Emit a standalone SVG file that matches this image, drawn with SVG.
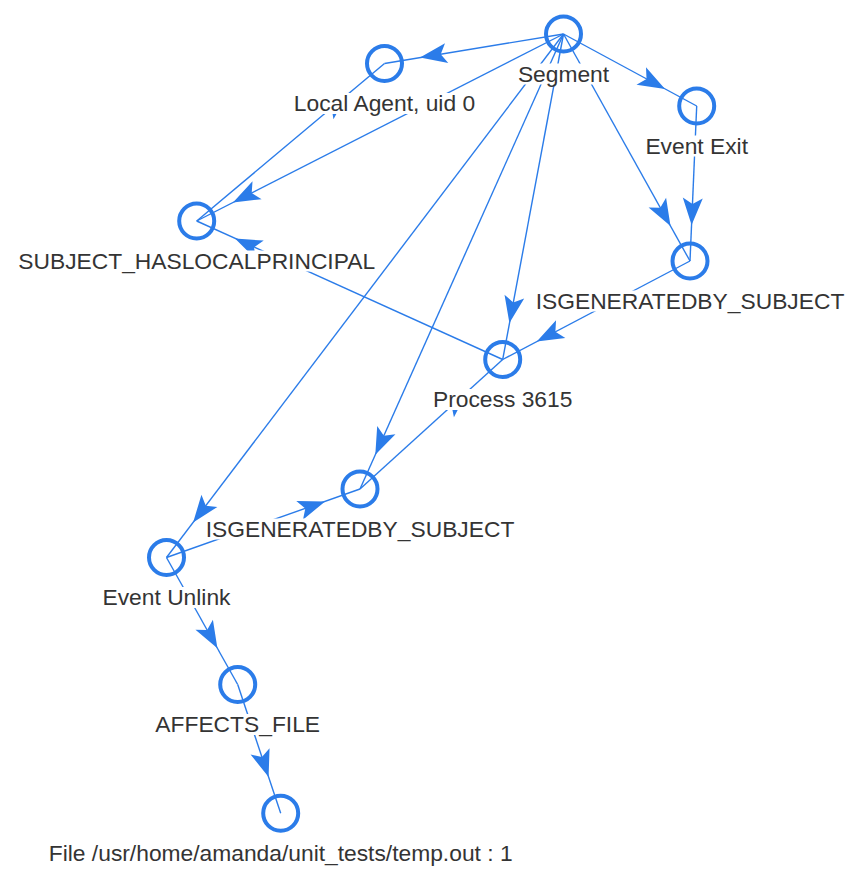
<svg xmlns="http://www.w3.org/2000/svg" xmlns:xlink="http://www.w3.org/1999/xlink" width="859" height="885" viewBox="0 0 859 885">
<style>
.e{stroke:#2B7CE9;stroke-width:1.4;fill:none}
.a{fill:#2B7CE9}
.n{stroke:#2B7CE9;stroke-width:4;fill:none}
.lb{fill:#ffffff}
.t{font-family:"Liberation Sans",Arial,sans-serif;font-size:22.8px;fill:#343434;text-anchor:middle}
</style>
<defs>
<path id="arr" d="M0,0 L-27,-10 L-21,0 L-27,10 Z"/>
</defs>
<rect width="859" height="885" fill="#ffffff"/>
<g id="connectors">
<line class="e" x1="563.5" y1="34" x2="384.5" y2="63.5"/>
<line class="e" x1="563.5" y1="34" x2="196.7" y2="221"/>
<line class="e" x1="502.7" y1="359.5" x2="196.7" y2="221"/>
<line class="e" x1="563.5" y1="34" x2="696.7" y2="106"/>
<line class="e" x1="563.5" y1="34" x2="690" y2="261"/>
<line class="e" x1="696.7" y1="106" x2="690" y2="261"/>
<line class="e" x1="563.5" y1="34" x2="502.7" y2="359.5"/>
<line class="e" x1="690" y1="261" x2="502.7" y2="359.5"/>
<line class="e" x1="563.5" y1="34" x2="360" y2="489"/>
<line class="e" x1="563.5" y1="34" x2="166.5" y2="557.5"/>
<line class="e" x1="166.5" y1="557.5" x2="360" y2="489"/>
<line class="e" x1="166.5" y1="557.5" x2="237.7" y2="684.5"/>
<line class="e" x1="237.7" y1="684.5" x2="280.7" y2="813.3"/>
<line class="e" x1="360" y1="489" x2="502.7" y2="359.5"/>
<line class="e" x1="196.7" y1="221" x2="384.5" y2="63.5"/>
<use href="#arr" class="a" transform="translate(420,57.6) rotate(170.64)"/>
<use href="#arr" class="a" transform="translate(233,202.5) rotate(152.99)"/>
<use href="#arr" class="a" transform="translate(235,238.6) rotate(-155.65)"/>
<use href="#arr" class="a" transform="translate(665,88.9) rotate(28.39)"/>
<use href="#arr" class="a" transform="translate(670.5,226.1) rotate(60.87)"/>
<use href="#arr" class="a" transform="translate(691.6,225) rotate(92.48)"/>
<use href="#arr" class="a" transform="translate(509.4,323.1) rotate(100.58)"/>
<use href="#arr" class="a" transform="translate(536.8,341.6) rotate(152.26)"/>
<use href="#arr" class="a" transform="translate(375.3,454.8) rotate(114.1)"/>
<use href="#arr" class="a" transform="translate(193.1,522.4) rotate(127.18)"/>
<use href="#arr" class="a" transform="translate(325.1,501.4) rotate(-19.49)"/>
<use href="#arr" class="a" transform="translate(217.4,648.3) rotate(60.72)"/>
<use href="#arr" class="a" transform="translate(268.6,777) rotate(71.54)"/>
<use href="#arr" class="a" transform="translate(467.2,391.8) rotate(-42.22)"/>
<use href="#arr" class="a" transform="translate(347.7,94.3) rotate(-39.99)"/>
</g>
<g id="segment">
<circle class="n" cx="563.5" cy="34" r="17.5"/>
<rect class="lb" x="516" y="63.5" width="95" height="21"/>
<text class="t" x="563.5" y="81.5">Segment</text>
</g>
<g id="local-agent">
<circle class="n" cx="384.5" cy="63.5" r="17.5"/>
<rect class="lb" x="292" y="93" width="185" height="21"/>
<text class="t" x="384.5" y="111">Local Agent, uid 0</text>
</g>
<g id="event-exit">
<circle class="n" cx="696.7" cy="106" r="17.5"/>
<rect class="lb" x="643" y="135.5" width="107" height="21"/>
<text class="t" x="696.7" y="153.5">Event Exit</text>
</g>
<g id="subject-haslocalprincipal">
<circle class="n" cx="196.7" cy="221" r="17.5"/>
<rect class="lb" x="16" y="250.5" width="362" height="21"/>
<text class="t" x="196.7" y="268.5">SUBJECT_HASLOCALPRINCIPAL</text>
</g>
<g id="isgeneratedby-right">
<circle class="n" cx="690" cy="261" r="17.5"/>
<rect class="lb" x="535" y="290.5" width="310" height="21"/>
<text class="t" x="690" y="308.5">ISGENERATEDBY_SUBJECT</text>
</g>
<g id="process-3615">
<circle class="n" cx="502.7" cy="359.5" r="17.5"/>
<rect class="lb" x="431" y="389" width="144" height="21"/>
<text class="t" x="502.7" y="407">Process 3615</text>
</g>
<g id="isgeneratedby-left">
<circle class="n" cx="360" cy="489" r="17.5"/>
<rect class="lb" x="203" y="518.5" width="314" height="21"/>
<text class="t" x="360" y="536.5">ISGENERATEDBY_SUBJECT</text>
</g>
<g id="event-unlink">
<circle class="n" cx="166.5" cy="557.5" r="17.5"/>
<rect class="lb" x="101" y="587" width="132" height="21"/>
<text class="t" x="166.5" y="605">Event Unlink</text>
</g>
<g id="affects-file">
<circle class="n" cx="237.7" cy="684.5" r="17.5"/>
<rect class="lb" x="155" y="714" width="168" height="21"/>
<text class="t" x="237.7" y="732">AFFECTS_FILE</text>
</g>
<g id="file-temp-out">
<circle class="n" cx="280.7" cy="813.3" r="17.5"/>
<rect class="lb" x="46" y="842.8" width="468" height="21"/>
<text class="t" x="280.7" y="860.8">File /usr/home/amanda/unit_tests/temp.out : 1</text>
</g>
</svg>
